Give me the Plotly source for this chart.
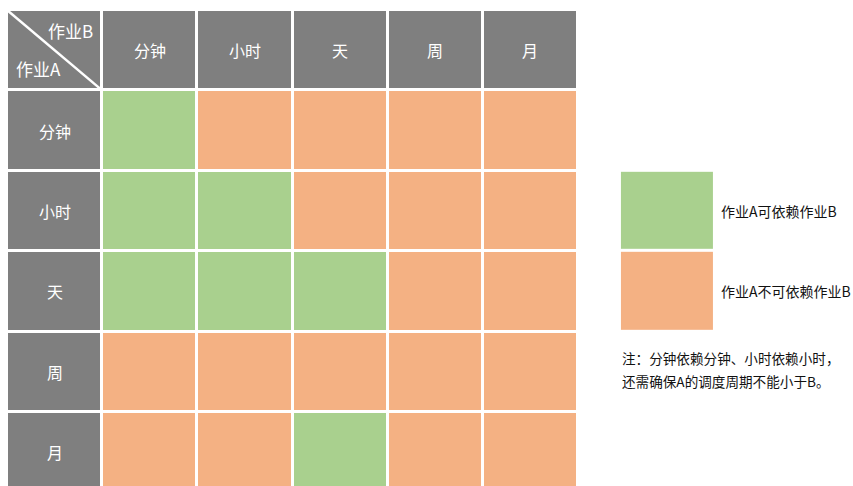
import plotly.graph_objects as go

# ---- data ----
periods_b = ["分钟", "小时", "天", "周", "月"]   # columns (作业B)
periods_a = ["分钟", "小时", "天", "周", "月"]   # rows (作业A)
# 1 = 作业A可依赖作业B, 0 = 不可依赖
can_depend = [
    [1, 0, 0, 0, 0],
    [1, 1, 0, 0, 0],
    [1, 1, 1, 0, 0],
    [0, 0, 0, 0, 0],
    [0, 0, 1, 0, 0],
]
legend_labels = ["作业A可依赖作业B", "作业A不可依赖作业B"]
note_lines = ["注：分钟依赖分钟、小时依赖小时，", "还需确保A的调度周期不能小于B。"]
corner_b = "作业B"
corner_a = "作业A"

GRAY = "#7f7f7f"
GREEN = "#a9d08e"
ORANGE = "#f4b183"
FONT = "Noto Sans CJK SC"

# Build z matrix: 0 header, 1 green, 2 orange
n = len(periods_b) + 1
z = [[0] * n]
for r in range(len(periods_a)):
    row = [0]
    for c in range(len(periods_b)):
        row.append(1 if can_depend[r][c] else 2)
    z.append(row)

colorscale = [[0, GRAY], [0.25, GRAY], [0.25, GREEN], [0.75, GREEN], [0.75, ORANGE], [1, ORANGE]]

fig = go.Figure()
fig.add_trace(go.Heatmap(
    z=z, x=list(range(n)), y=list(range(n)),
    colorscale=colorscale, zmin=0, zmax=2, showscale=False,
    xgap=3, ygap=3, hoverinfo="skip",
))

# layout geometry
W, H = 853, 486
TOP = 10
col_px = (578 - 7) / 6.0
row_px = 80.4
x0 = -0.5 - 7 / col_px
x1 = x0 + W / col_px
y_end = -0.5 + (H - TOP) / row_px

leg_x = (667.5 - 7) / col_px - 0.5
fig.add_trace(go.Heatmap(
    z=[[1], [2]], x=[leg_x], y=[2, 3],
    colorscale=colorscale, zmin=0, zmax=2, showscale=False,
    xgap=3, ygap=3, hoverinfo="skip",
))

ann = []
hdr_font = dict(family=FONT, size=16, color="white")
corner_font = dict(family=FONT, size=17, color="white")
for i, lab in enumerate(periods_b):
    ann.append(dict(x=i + 1, y=0, text=lab, showarrow=False, font=hdr_font))
for i, lab in enumerate(periods_a):
    ann.append(dict(x=0, y=i + 1, text=lab, showarrow=False, font=hdr_font))
ann.append(dict(x=0.17, y=-0.25, text=corner_b, showarrow=False, font=corner_font))
ann.append(dict(x=-0.17, y=0.23, text=corner_a, showarrow=False, font=corner_font))

txt_x = (719 - 7) / col_px - 0.5
for i, lab in enumerate(legend_labels):
    ann.append(dict(x=txt_x, y=2 + i, text=lab, showarrow=False, xanchor="left",
                    font=dict(family=FONT, size=14, color="#111111")))
note_x = (620 - 7) / col_px - 0.5
for i, line in enumerate(note_lines):
    ann.append(dict(x=note_x, y=(358 - TOP) / row_px - 0.5 + i * 23 / row_px, text=line,
                    showarrow=False, xanchor="left",
                    font=dict(family=FONT, size=13.6, color="#111111")))

fig.add_shape(type="line", x0=-0.5, y0=-0.5, x1=0.5, y1=0.5,
              line=dict(color="white", width=2.5), layer="above")

fig.update_layout(
    width=W, height=H,
    margin=dict(l=0, r=0, t=TOP, b=0),
    paper_bgcolor="white", plot_bgcolor="white",
    annotations=ann,
    xaxis=dict(range=[x0, x1], showgrid=False, zeroline=False, showticklabels=False, fixedrange=True),
    yaxis=dict(range=[y_end, -0.5], showgrid=False, zeroline=False, showticklabels=False, fixedrange=True),
)

fig.write_html("out.html", config={"displayModeBar": False},
               post_script="document.body.style.margin='0';document.body.style.overflow='hidden';")
